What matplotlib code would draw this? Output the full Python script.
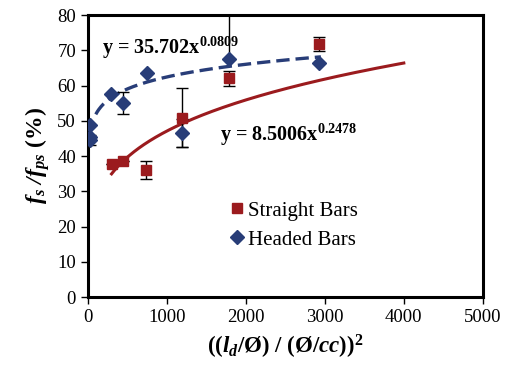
import matplotlib
matplotlib.use("Agg")
import matplotlib.pyplot as plt
import numpy as np

plt.rcParams['font.family'] = ['Liberation Serif', 'DejaVu Serif']
plt.rcParams['mathtext.fontset'] = 'custom'
plt.rcParams['mathtext.rm'] = 'Liberation Serif'
plt.rcParams['mathtext.it'] = 'Liberation Serif:italic'
plt.rcParams['mathtext.bf'] = 'Liberation Serif:bold'
plt.rcParams['mathtext.bfit'] = 'Liberation Serif:italic:bold'

# Data
straight_x = [300, 447, 734, 1186, 1785, 2928]
straight_y = [37.6, 38.7, 36.0, 50.9, 62.0, 71.8]
straight_err_lo = [0, 0, 2.6, 8.3, 2.0, 1.9]
straight_err_hi = [0, 0, 2.6, 8.3, 2.0, 1.9]

headed_x = [25, 25, 25, 291, 447, 743, 1194, 1785, 2928]
headed_y = [48.8, 45.3, 44.5, 57.5, 55.1, 63.6, 46.6, 67.4, 66.3]
headed_err_lo = [0, 0, 1.5, 0, 3.2, 0, 4.0, 0, 0]
headed_err_hi = [0, 0, 1.5, 0, 3.2, 0, 4.0, 12.5, 0]

straight_fit = (8.5006, 0.2478, 300, 4000)
headed_fit = (35.702, 0.0809, 100, 2950)

xticks = [0, 1000, 2000, 3000, 4000, 5000]
yticks = [0, 10, 20, 30, 40, 50, 60, 70, 80]

red = '#9B1B1E'
blue = '#283D78'

fig = plt.figure(figsize=(5.05, 3.72), dpi=100)
ax = fig.add_axes([0.174, 0.2016, 0.782, 0.758])

# fits
a, b, x0, x1 = straight_fit
xs = np.linspace(x0, x1, 300)
ax.plot(xs, a * xs ** b, color=red, lw=2.2, zorder=2)
a, b, x0, x1 = headed_fit
xs = np.linspace(x0, x1, 300)
ax.plot(xs, a * xs ** b, color=blue, lw=2.4, ls=(0, (4, 1.8)), zorder=2)

ax.errorbar(straight_x, straight_y, yerr=[straight_err_lo, straight_err_hi], fmt='none',
            ecolor='black', elinewidth=1, capsize=4, capthick=1, zorder=3)
ax.errorbar(headed_x, headed_y, yerr=[headed_err_lo, headed_err_hi], fmt='none',
            ecolor='black', elinewidth=1, capsize=4, capthick=1, zorder=3)
ax.plot(straight_x, straight_y, 's', color=red, ms=7.5, mec=red, ls='none',
        label='Straight Bars', zorder=4)
ax.plot(headed_x, headed_y, 'D', color=blue, ms=7, mec=blue, ls='none',
        label='Headed Bars', zorder=4)

ax.text(0.035, 0.885, r'y = 35.702x$^{\mathbf{0.0809}}$', transform=ax.transAxes,
        fontsize=14.5, fontweight='bold', color='black', va='center', ha='left')
ax.text(0.335, 0.575, r'y = 8.5006x$^{\mathbf{0.2478}}$', transform=ax.transAxes,
        fontsize=14.5, fontweight='bold', color='black', va='center', ha='left')

ax.set_xlim(0, 5000)
ax.set_ylim(0, 80)
ax.set_xticks(xticks)
ax.set_yticks(yticks)
ax.tick_params(axis='both', labelsize=13.5, width=1, length=5, direction='out', color='black')
for s in ax.spines.values():
    s.set_linewidth(2.2)

ax.set_ylabel(r'$\mathbfit{f_s\ /f_{ps}}$ (%)', fontsize=17, fontweight='bold', labelpad=4)
ax.set_xlabel(r'(($\mathbfit{l_d}$/Ø) / (Ø/$\mathbfit{cc}$))$^{\mathbf{2}}$', fontsize=16.5,
              fontweight='bold', labelpad=5)

leg = ax.legend(loc='upper left', bbox_to_anchor=(0.33, 0.37), frameon=False, fontsize=15,
                handletextpad=0.05, handlelength=1.0, labelspacing=0.45, borderaxespad=0)

fig.savefig('out.png', dpi=100)
